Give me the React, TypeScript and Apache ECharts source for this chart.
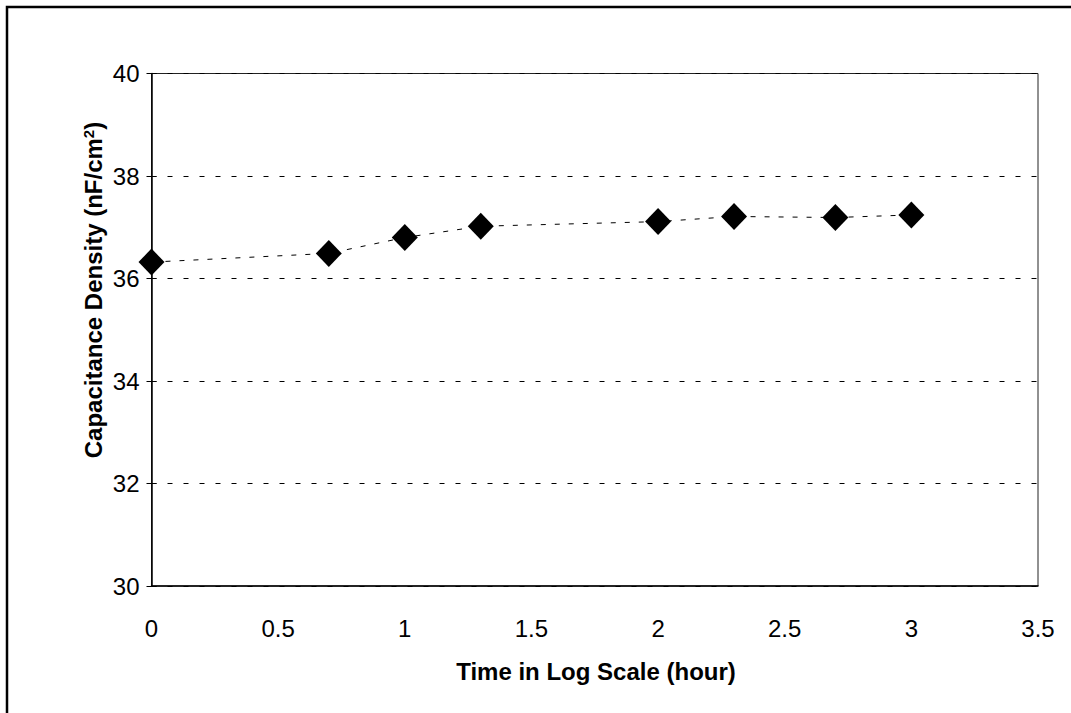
import React, { useEffect, useRef } from "react";
import * as echarts from "echarts";

const xValues = [0, 0.7, 1, 1.3, 2, 2.3, 2.7, 3];
const capacitance = [36.32, 36.49, 36.8, 37.02, 37.11, 37.21, 37.19, 37.24];
const xTicks = [0, 0.5, 1, 1.5, 2, 2.5, 3, 3.5];
const yTicks = [30, 32, 34, 36, 38, 40];

const FONT = "'Liberation Sans', Arial, Helvetica, sans-serif";

export default function App() {
  const ref = useRef<HTMLDivElement>(null);
  useEffect(() => {
    if (!ref.current) return;
    const chart = echarts.init(ref.current, undefined, { renderer: "svg" });
    const data = xValues.map((x, i) => [x, capacitance[i]]);
    chart.setOption({
      animation: false,
      backgroundColor: "#fff",
      grid: {
        left: 151.5,
        top: 73.5,
        right: 33,
        bottom: 127,
        show: true,
        borderColor: "#222",
        borderWidth: 1,
      },
      xAxis: {
        type: "value",
        min: xTicks[0],
        max: xTicks[xTicks.length - 1],
        interval: 0.5,
        axisLine: { show: true, onZero: false, lineStyle: { color: "#000", width: 1.5 } },
        axisTick: { show: false },
        splitLine: { show: false },
        axisLabel: { color: "#000", fontSize: 24, fontFamily: FONT, margin: 30 },
      },
      yAxis: [
        {
          type: "value",
          min: yTicks[0],
          max: yTicks[yTicks.length - 1],
          interval: 2,
          axisLine: { show: true, lineStyle: { color: "#000", width: 1.5 } },
          axisTick: { show: true, length: 5, lineStyle: { color: "#000", width: 1 } },
          splitLine: { show: true, lineStyle: { color: "#000", width: 1, type: [5, 11] } },
          axisLabel: { color: "#000", fontSize: 24, fontFamily: FONT, margin: 12 },
        },
        {
          type: "value",
          position: "left",
          min: yTicks[0],
          max: yTicks[yTicks.length - 1],
          interval: 2,
          axisLine: { show: false },
          axisTick: { show: true, inside: true, length: 5, lineStyle: { color: "#000", width: 1 } },
          splitLine: { show: false },
          axisLabel: { show: false },
        },
      ],
      series: [
        {
          type: "line",
          data,
          symbol: "diamond",
          symbolSize: [26, 27],
          itemStyle: { color: "#000" },
          lineStyle: { color: "#000", width: 1, type: [5, 9] },
          z: 5,
        },
      ],
      graphic: [
        {
          type: "rect",
          shape: { x: 7, y: 7, width: 1200, height: 1000 },
          style: { fill: "none", stroke: "#000", lineWidth: 2.5 },
          silent: true,
        },
        {
          type: "text",
          x: 596,
          y: 671,
          style: {
            text: "Time in Log Scale (hour)",
            fill: "#000",
            font: `bold 24px ${FONT}`,
            align: "center",
            verticalAlign: "middle",
          },
        },
        {
          type: "text",
          x: 93,
          y: 290,
          rotation: Math.PI / 2,
          style: {
            text: "{t|Capacitance Density (nF/cm}{s|2}{t|)}",
            fill: "#000",
            align: "center",
            verticalAlign: "middle",
            rich: {
              t: { font: `bold 24px ${FONT}`, fill: "#000" },
              s: { font: `bold 15px ${FONT}`, fill: "#000", verticalAlign: "top", padding: [0, 0, 10, 0] },
            },
          },
        },
      ],
    });
    return () => chart.dispose();
  }, []);
  return (
    <div
      ref={ref}
      style={{ position: "fixed", left: 0, top: 0, width: 1071, height: 713 }}
    />
  );
}
